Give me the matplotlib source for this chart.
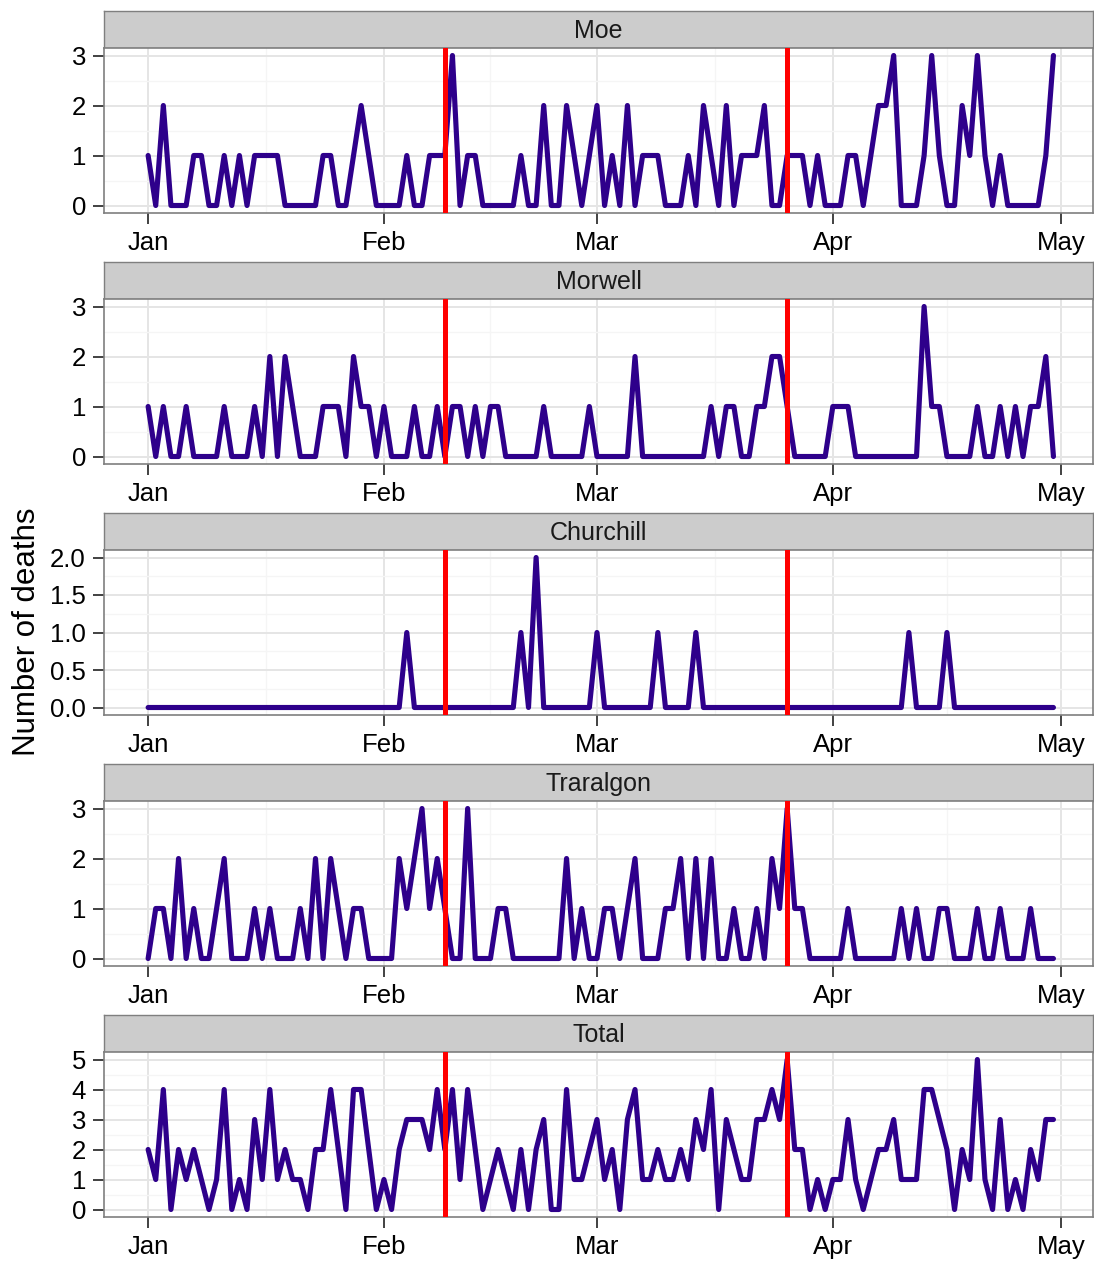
import numpy as np
import pandas as pd
import matplotlib
matplotlib.use('Agg')
import matplotlib.pyplot as plt

plt.rcParams['font.family'] = ['Liberation Sans', 'DejaVu Sans']

# daily deaths, 1 Jan - 30 Apr 2014
dates = pd.date_range('2014-01-01', '2014-04-30', freq='D')

moe = [1, 0, 2, 0, 0, 0, 1, 1, 0, 0,
       1, 0, 1, 0, 1, 1, 1, 1, 0, 0,
       0, 0, 0, 1, 1, 0, 0, 1, 2, 1,
       0, 0, 0, 0, 1, 0, 0, 1, 1, 1,
       3, 0, 1, 1, 0, 0, 0, 0, 0, 1,
       0, 0, 2, 0, 0, 2, 1, 0, 1, 2,
       0, 1, 0, 2, 0, 1, 1, 1, 0, 0,
       0, 1, 0, 2, 1, 0, 2, 0, 1, 1,
       1, 2, 0, 0, 1, 1, 1, 0, 1, 0,
       0, 0, 1, 1, 0, 1, 2, 2, 3, 0,
       0, 0, 1, 3, 1, 0, 0, 2, 1, 3,
       1, 0, 1, 0, 0, 0, 0, 0, 1, 3]

morwell = [1, 0, 1, 0, 0, 1, 0, 0, 0, 0,
           1, 0, 0, 0, 1, 0, 2, 0, 2, 1,
           0, 0, 0, 1, 1, 1, 0, 2, 1, 1,
           0, 1, 0, 0, 0, 1, 0, 0, 1, 0,
           1, 1, 0, 1, 0, 1, 1, 0, 0, 0,
           0, 0, 1, 0, 0, 0, 0, 0, 1, 0,
           0, 0, 0, 0, 2, 0, 0, 0, 0, 0,
           0, 0, 0, 0, 1, 0, 1, 1, 0, 0,
           1, 1, 2, 2, 1, 0, 0, 0, 0, 0,
           1, 1, 1, 0, 0, 0, 0, 0, 0, 0,
           0, 0, 3, 1, 1, 0, 0, 0, 0, 1,
           0, 0, 1, 0, 1, 0, 1, 1, 2, 0]

churchill = [0, 0, 0, 0, 0, 0, 0, 0, 0, 0,
             0, 0, 0, 0, 0, 0, 0, 0, 0, 0,
             0, 0, 0, 0, 0, 0, 0, 0, 0, 0,
             0, 0, 0, 0, 1, 0, 0, 0, 0, 0,
             0, 0, 0, 0, 0, 0, 0, 0, 0, 1,
             0, 2, 0, 0, 0, 0, 0, 0, 0, 1,
             0, 0, 0, 0, 0, 0, 0, 1, 0, 0,
             0, 0, 1, 0, 0, 0, 0, 0, 0, 0,
             0, 0, 0, 0, 0, 0, 0, 0, 0, 0,
             0, 0, 0, 0, 0, 0, 0, 0, 0, 0,
             1, 0, 0, 0, 0, 1, 0, 0, 0, 0,
             0, 0, 0, 0, 0, 0, 0, 0, 0, 0]

traralgon = [0, 1, 1, 0, 2, 0, 1, 0, 0, 1,
             2, 0, 0, 0, 1, 0, 1, 0, 0, 0,
             1, 0, 2, 0, 2, 1, 0, 1, 1, 0,
             0, 0, 0, 2, 1, 2, 3, 1, 2, 1,
             0, 0, 3, 0, 0, 0, 1, 1, 0, 0,
             0, 0, 0, 0, 0, 2, 0, 1, 0, 0,
             1, 1, 0, 1, 2, 0, 0, 0, 1, 1,
             2, 0, 2, 0, 2, 0, 0, 1, 0, 0,
             1, 0, 2, 1, 3, 1, 1, 0, 0, 0,
             0, 0, 1, 0, 0, 0, 0, 0, 0, 1,
             0, 1, 0, 0, 1, 1, 0, 0, 0, 1,
             0, 0, 1, 0, 0, 0, 1, 0, 0, 0]

total = [2, 1, 4, 0, 2, 1, 2, 1, 0, 1,
         4, 0, 1, 0, 3, 1, 4, 1, 2, 1,
         1, 0, 2, 2, 4, 2, 0, 4, 4, 2,
         0, 1, 0, 2, 3, 3, 3, 2, 4, 2,
         4, 1, 4, 2, 0, 1, 2, 1, 0, 2,
         0, 2, 3, 0, 0, 4, 1, 1, 2, 3,
         1, 2, 0, 3, 4, 1, 1, 2, 1, 1,
         2, 1, 3, 2, 4, 0, 3, 2, 1, 1,
         3, 3, 4, 3, 5, 2, 2, 0, 1, 0,
         1, 1, 3, 1, 0, 1, 2, 2, 3, 1,
         1, 1, 4, 4, 3, 2, 0, 2, 1, 5,
         1, 0, 3, 0, 1, 0, 2, 1, 3, 3]

panel_names = ['Moe', 'Morwell', 'Churchill', 'Traralgon', 'Total']
panel_data = [moe, morwell, churchill, traralgon, total]
panel_yticks = [[0, 1, 2, 3], [0, 1, 2, 3], [0, 0.5, 1, 1.5, 2],
                [0, 1, 2, 3], [0, 1, 2, 3, 4, 5]]
panel_ylabels = [['0', '1', '2', '3'], ['0', '1', '2', '3'],
                 ['0.0', '0.5', '1.0', '1.5', '2.0'],
                 ['0', '1', '2', '3'], ['0', '1', '2', '3', '4', '5']]

event_dates = pd.to_datetime(['2014-02-09', '2014-03-26'])
month_starts = pd.date_range('2014-01-01', '2014-05-01', freq='MS')
month_labels = ['Jan', 'Feb', 'Mar', 'Apr', 'May']

W, H = 1094, 1263
fig = plt.figure(figsize=(W / 100, H / 100), dpi=100)


def box(l, t, r, b):
    return [l / W, 1 - b / H, (r - l) / W, (b - t) / H]


minor_x = month_starts[:-1] + (month_starts[1:] - month_starts[:-1]) / 2
x0 = pd.Timestamp('2014-01-01') - pd.Timedelta(days=5.8)
x1 = pd.Timestamp('2014-01-01') + pd.Timedelta(days=124.2)

for i, (name, vals) in enumerate(zip(panel_names, panel_data)):
    st = 11 + 251 * i
    sb = st + 37
    pb = sb + 165

    # facet strip
    sa = fig.add_axes(box(104, st, 1093, sb))
    sa.set_facecolor('#CCCCCC')
    sa.set_xticks([])
    sa.set_yticks([])
    for s in sa.spines.values():
        s.set_color('#7F7F7F')
        s.set_linewidth(1.0)
    sa.text(0.5, 0.47, name, ha='center', va='center', fontsize=18,
            color='#1A1A1A', transform=sa.transAxes)

    ax = fig.add_axes(box(104, sb, 1093, pb))
    ax.plot(dates, vals, color='#2E008B', lw=3.7, solid_joinstyle='round',
            solid_capstyle='round', zorder=3)
    for d in event_dates:
        ax.axvline(d, color='#FF0000', lw=3.6, zorder=4)

    yt = panel_yticks[i]
    step = yt[1] - yt[0]
    ax.set_ylim(yt[0] - 0.05 * (yt[-1] - yt[0]), yt[-1] + 0.05 * (yt[-1] - yt[0]))
    ax.set_yticks(yt)
    ax.set_yticklabels(panel_ylabels[i])
    ax.set_yticks(np.array(yt[:-1]) + step / 2, minor=True)

    ax.set_xlim(x0, x1)
    ax.set_xticks(month_starts)
    ax.set_xticklabels(month_labels)
    ax.set_xticks(minor_x, minor=True)

    ax.grid(which='major', color='#E5E5E5', lw=1.4, zorder=0)
    ax.grid(which='minor', color='#F5F5F5', lw=1.0, zorder=0)
    ax.set_axisbelow(True)
    for s in ax.spines.values():
        s.set_color('#7F7F7F')
        s.set_linewidth(1.2)
    ax.tick_params(which='major', length=8, width=1.3, color='#333333',
                   labelsize=18.5, labelcolor='black', pad=5)
    ax.tick_params(which='minor', length=0)

fig.text(0.025, 0.5, 'Number of deaths', rotation=90, ha='center',
         va='center', fontsize=22.5)

fig.savefig('out.png', dpi=100)
